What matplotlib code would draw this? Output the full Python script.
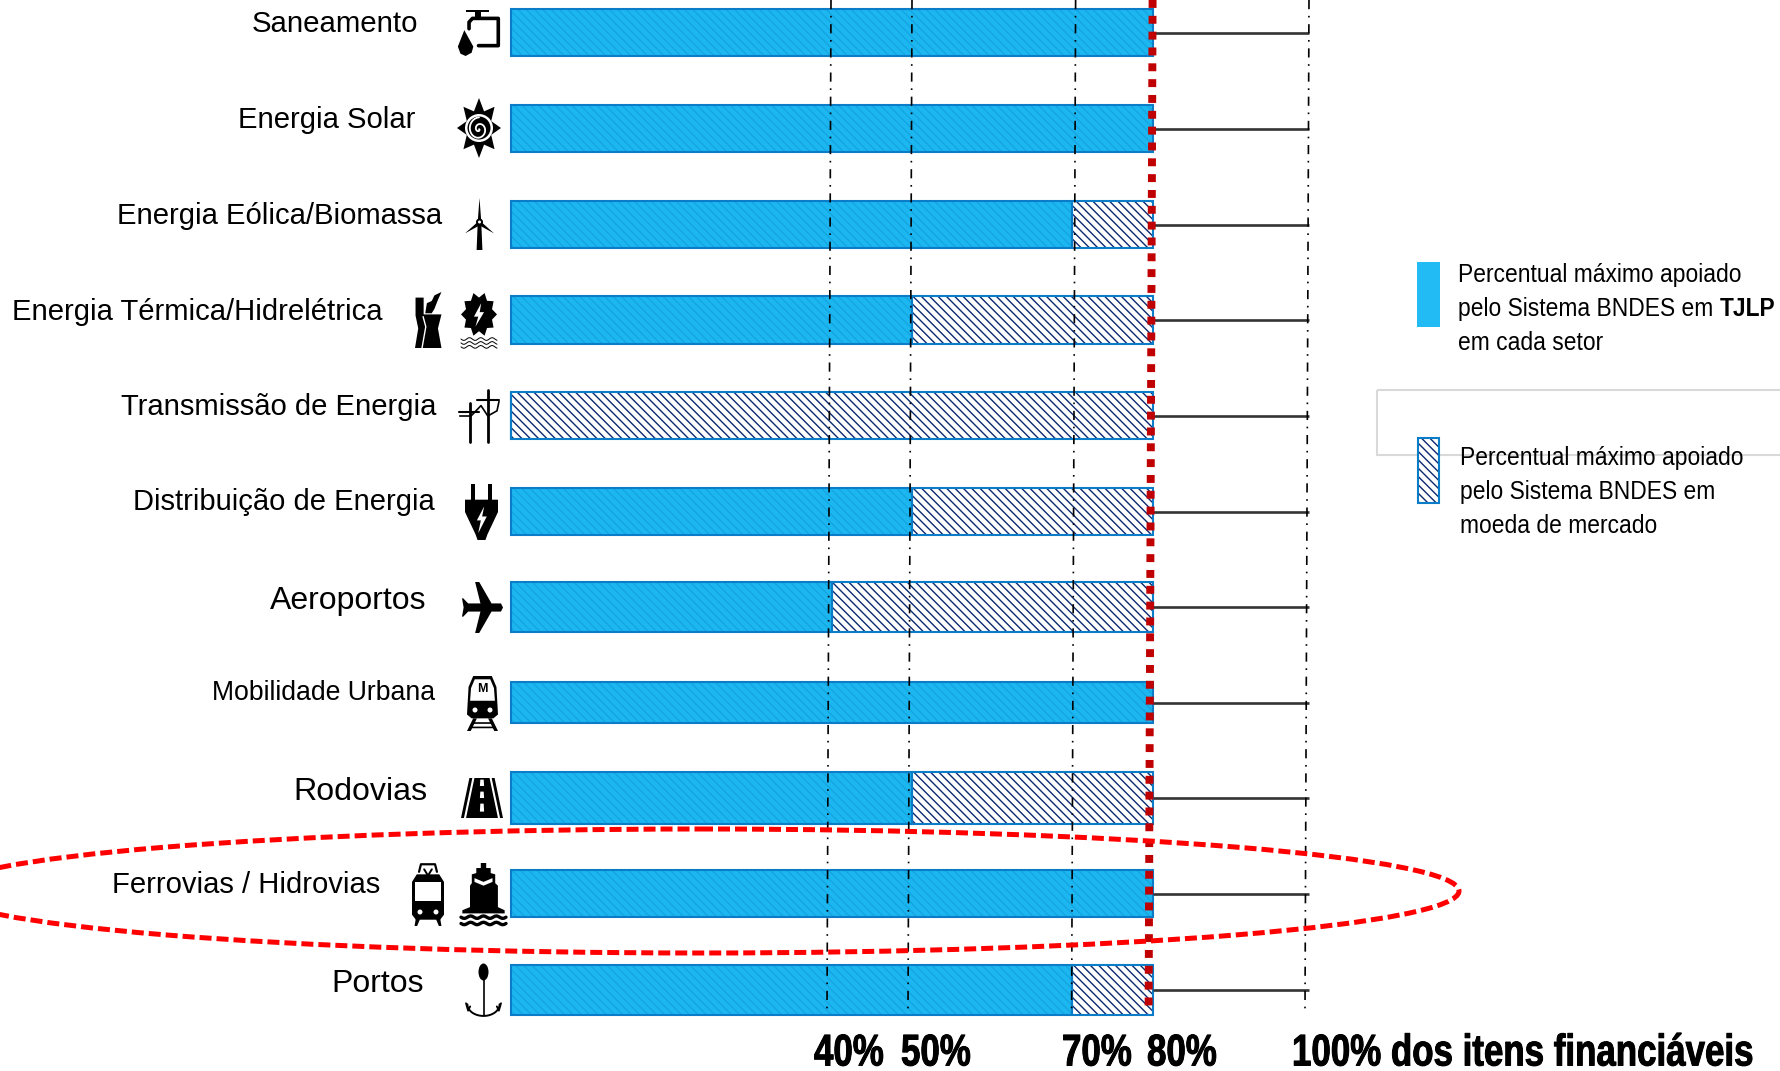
import numpy as np
import matplotlib
matplotlib.use("Agg")
import matplotlib.pyplot as plt
import matplotlib.patheffects as pe
from matplotlib import font_manager as fm
from matplotlib.patches import Ellipse, Polygon, Rectangle
from fontTools.ttLib import TTFont

# ---- data ----
sectors = ["Saneamento", "Energia Solar", "Energia Eólica/Biomassa", "Energia Térmica/Hidrelétrica",
           "Transmissão de Energia", "Distribuição de Energia", "Aeroportos", "Mobilidade Urbana",
           "Rodovias", "Ferrovias / Hidrovias", "Portos"]
tjlp_pct = [80, 80, 70, 50, 0, 50, 40, 80, 50, 80, 70]
market_pct = [0, 0, 10, 30, 80, 30, 40, 0, 30, 0, 10]
tick_values = [39.9, 50, 70.4, 80, 99.5]
tick_labels = ["40%", "50%", "70%", "80%", "100% dos itens financiáveis"]

# ---- layout (pixels of the picture) ----
W, H = 1780, 1071
row_top = [9, 105, 201, 296, 392, 488, 582, 682, 772, 870, 965]
row_bot = [56, 152, 248, 344, 439, 535, 632, 723, 824, 917, 1015]
label_right = [418, 415, 442, 382, 436, 435, 426, 435, 427, 380, 424]
label_y = [24, 120, 216, 312, 407, 502, 601, 693, 792, 885, 984]
label_pt = [21.2, 21.1, 21.1, 21.1, 21.1, 21.0, 23.0, 19.2, 23.1, 21.1, 23.0]


def condensed(weight, xscale, family):
    """Register a horizontally condensed copy of Liberation Sans (the sandbox has no narrow face)."""
    path = fm.findfont(fm.FontProperties(family='Liberation Sans', weight=weight))
    f = TTFont(path)
    glyf = f['glyf']
    for name in glyf.keys():
        g = glyf[name]
        g.removeHinting() if hasattr(g, 'removeHinting') else None
        if g.isComposite():
            for comp in g.components:
                comp.x = int(round(comp.x * xscale))
        elif g.numberOfContours > 0:
            g.coordinates.scale((xscale, 1))
            g.coordinates.toInt()
        g.recalcBounds(glyf)
    hmtx = f['hmtx']
    for name, (adv, lsb) in list(hmtx.metrics.items()):
        hmtx.metrics[name] = (int(round(adv * xscale)), int(round(lsb * xscale)))
    for tag in ('kern', 'GPOS', 'GSUB', 'hdmx', 'VDMX', 'LTSH', 'fpgm', 'prep', 'cvt ', 'gasp', 'DSIG'):
        if tag in f:
            del f[tag]
    for rec in f['name'].names:
        if rec.nameID in (1, 3, 4, 6, 16):
            rec.string = family.replace(' ', '') if rec.nameID == 6 else family
    fname = family.replace(' ', '_') + '.ttf'
    f.save(fname)
    fm.fontManager.addfont(fname)
    return fm.FontProperties(fname=fname)


FP_LEGEND = condensed('normal', 0.895, 'LibCond Regular')
FP_LEGEND_B = condensed('bold', 0.88, 'LibCond BoldA')
FP_TICK = condensed('bold', 0.785, 'LibCond BoldB')

fig = plt.figure(figsize=(W / 100, H / 100), dpi=100, facecolor='white')
ax = fig.add_axes([0, 0, 1, 1])
X0, PX_PER_PCT = 511, 8.02
ax.set_xlim(-X0 / PX_PER_PCT, (W - X0) / PX_PER_PCT)
ax.set_ylim(H, 0)
ax.axis('off')
plt.rcParams['hatch.linewidth'] = 1.0

ov = fig.add_axes([0, 0, 1, 1], facecolor='none')
ov.set_xlim(0, W)
ov.set_ylim(H, 0)
ov.axis('off')

BLUE, BLUE2, EDGE, NAVY = '#1CB6F0', '#15A6E2', '#0B7CC8', '#0A2A70'
HATCH = '\\\\\\\\'
centers = [(a + b) / 2 for a, b in zip(row_top, row_bot)]
heights = [b - a for a, b in zip(row_top, row_bot)]

ax.barh(centers, tjlp_pct, height=heights, color=BLUE, edgecolor=BLUE2, hatch=HATCH, lw=0, zorder=2)
ax.barh(centers, tjlp_pct, height=heights, color='none', edgecolor=EDGE, lw=1.5, zorder=2.5)
for c, h, t, m in zip(centers, heights, tjlp_pct, market_pct):
    if m:
        ax.barh(c, m, left=t, height=h, color='white', edgecolor=NAVY, hatch=HATCH, lw=0, zorder=2)
        ax.barh(c, m, left=t, height=h, color='none', edgecolor=EDGE, lw=1.5, zorder=2.5)

# whiskers to 100%
ax.hlines(centers, [t + m for t, m in zip(tjlp_pct, market_pct)], tick_values[-1], color='#333333', lw=1.9, zorder=3)

# reference lines, slightly slanted as in the picture
shear = 4 / 1013 / PX_PER_PCT
for i, v in enumerate(tick_values):
    if i == 3:
        ax.plot([v, v - 1013 * shear], [0, 1013], color='#C00000', lw=5.7, ls=(0, (1, 1)), zorder=6)
    else:
        ax.plot([v, v - 1013 * shear], [0, 1013], color='black', lw=1.2, ls=(0, (5.5, 4, 1, 4)), zorder=4)

# axis labels
tick_left = [814, 901, 1062, 1147, 1292]
for lx, s in zip(tick_left, tick_labels):
    ov.text(lx, 1054, s, fontproperties=FP_TICK, fontsize=32, ha='left', va='center',
            path_effects=[pe.withStroke(linewidth=0.7, foreground='black')])

for s, r, y, p in zip(sectors, label_right, label_y, label_pt):
    ov.text(r, y, s, family=['Liberation Sans'], fontsize=p, ha='right', va='center')

# highlight ellipse
ov.add_patch(Ellipse((701, 891), 1516, 124, fill=False, ec='#FF0000', lw=3.6, ls=(0, (2.4, 1)), zorder=7))

# legend
ov.add_patch(Rectangle((1377, 390), 500, 65, fill=False, ec='#D9D9D9', lw=1.5, zorder=1))
ov.add_patch(Rectangle((1417, 262), 23, 65, fc='#22BBF3', ec='none', zorder=3))
ov.add_patch(Rectangle((1418, 438), 21, 65, fc='white', ec=NAVY, hatch=HATCH, lw=0, zorder=3))
ov.add_patch(Rectangle((1418, 438), 21, 65, fill=False, ec=EDGE, lw=1.5, zorder=3.5))
lg_font = dict(fontproperties=FP_LEGEND, fontsize=18.4, ha='left', va='center', zorder=5)
ov.text(1458, 275, "Percentual máximo apoiado", **lg_font)
ov.text(1458, 309, "pelo Sistema BNDES em", **lg_font)
ov.text(1720, 309, "TJLP", fontproperties=FP_LEGEND_B, fontsize=18.6, ha='left', va='center', zorder=5)
ov.text(1458, 343, "em cada setor", **lg_font)
ov.text(1460, 458, "Percentual máximo apoiado", **lg_font)
ov.text(1460, 492, "pelo Sistema BNDES em", **lg_font)
ov.text(1460, 526, "moeda de mercado", **lg_font)


# ---- sector icons (decorative glyphs, unit box, y downwards) ----
def mapper(x0, y0, x1, y1):
    return lambda p: [(x0 + (x1 - x0) * a, y0 + (y1 - y0) * b) for a, b in p]


def poly(m, pts, c='black'):
    ov.add_patch(Polygon(m(pts), closed=True, fc=c, ec='none', zorder=8))


def line(m, pts, lw=2, c='black'):
    q = np.array(m(pts))
    ov.plot(q[:, 0], q[:, 1], color=c, lw=lw, solid_capstyle='round', zorder=8)


def disc(x, y, r, c='black'):
    ov.add_patch(Ellipse((x, y), 2 * r, 2 * r, fc=c, ec='none', zorder=8))


# tap
m = mapper(457, 9, 500, 56)
line(m, [(.28, .42), (.28, .28), (.36, .2), (.96, .2), (.96, .78), (.5, .78)], 2.6)
poly(m, [(.2, .02), (.75, .02), (.75, .07), (.2, .07)])
poly(m, [(.42, .05), (.55, .05), (.55, .2), (.42, .2)])
poly(m, [(.17, .45), (.02, .8), (.08, .95), (.2, 1), (.34, .93), (.38, .8)])

# sun
m = mapper(457, 98, 501, 158)
t = np.linspace(0, 2 * np.pi, 16, endpoint=False) - np.pi / 2
star = [(.5 + (.5 if i % 2 == 0 else .3) * np.cos(a), .5 + (.5 if i % 2 == 0 else .3) * np.sin(a)) for i, a in enumerate(t)]
poly(m, star)
disc(479, 128, 14, 'white')
disc(479, 128, 11.5)
th = np.linspace(0, 3.5 * np.pi, 60)
line(m, [(.5 + .022 * a * np.cos(a), .52 + .018 * a * np.sin(a)) for a in th], 1.3, 'white')

# wind turbine
m = mapper(465, 198, 494, 250)
poly(m, [(.5, 0), (.56, .45), (.6, 1), (.4, 1), (.44, .45)])
poly(m, [(.5, .36), (.56, .46), (1, .68), (.54, .54)])
poly(m, [(.5, .36), (.44, .46), (0, .68), (.46, .54)])
disc(479.5, 222, 3.5)
disc(479.5, 222, 1.5, 'white')

# thermal plant
m = mapper(415, 292, 442, 348)
poly(m, [(.02, .1), (.32, .1), (.32, .4), (.98, .4), (.85, .65), (.98, 1), (0, 1), (.12, .65), (.02, .42)])
line(m, [(.3, .44), (.4, .62), (.26, 1)], 1.0, 'white')
poly(m, [(.38, .38), (.44, .2), (.62, .16), (.72, .06), (.98, 0), (.85, .14), (.72, .3), (.62, .38)])

# hydro wheel
m = mapper(461, 292, 497, 348)
n = 20
t = np.linspace(0, 2 * np.pi, n, endpoint=False)
gear = [(.5 + (.5 if i % 2 == 0 else .38) * np.cos(a), .4 + (.4 if i % 2 == 0 else .3) * np.sin(a)) for i, a in enumerate(t)]
poly(m, gear)
poly(m, [(.56, .2), (.36, .44), (.48, .44), (.4, .62), (.64, .36), (.52, .36)], 'white')
for wy in (.84, .91, .98):
    x = np.linspace(0, 1, 25)
    line(m, list(zip(x, wy + .025 * np.sin(x * 20))), .7)

# pylons
m = mapper(459, 390, 499, 442)
line(m, [(.27, .25), (.27, 1)], 2)
line(m, [(.72, 0), (.72, 1)], 2)
line(m, [(0, .42), (.5, .42)], 1.5)
line(m, [(.45, .2), (1, .2)], 1.5)
line(m, [(.02, .5), (.3, .5), (.55, .3), (.72, .5), (.95, .4), (1, .22)], 1.2)

# plug
m = mapper(465, 484, 498, 540)
poly(m, [(.18, 0), (.3, 0), (.3, .3), (.18, .3)])
poly(m, [(.7, 0), (.82, 0), (.82, .3), (.7, .3)])
poly(m, [(0, .28), (1, .28), (1, .5), (.68, .9), (.62, 1), (.38, 1), (.32, .9), (0, .5)])
poly(m, [(.58, .4), (.36, .65), (.48, .65), (.4, .88), (.66, .58), (.52, .58)], 'white')

# airplane
m = mapper(462, 582, 503, 633)
poly(m, [(.32, 0), (.42, 0), (.72, .42), (.95, .42), (1, .5), (.95, .58), (.72, .58), (.42, 1), (.32, 1), (.45, .58), (.15, .58),
         (.03, .68), (0, .68), (.04, .5), (0, .32), (.03, .32), (.15, .42), (.45, .42)])

# metro
m = mapper(467, 676, 498, 731)
poly(m, [(.2, 0), (.8, 0), (.95, .2), (1, .7), (.85, .77), (.15, .77), (0, .7), (.05, .2)])
poly(m, [(.25, .06), (.75, .06), (.87, .22), (.9, .45), (.1, .45), (.13, .22)], 'white')
ov.text(482.5, 689, "M", family=['Liberation Sans'], weight='bold', fontsize=9, ha='center', va='center', zorder=9)
disc(475, 710, 2.5, 'white')
disc(490, 710, 2.5, 'white')
poly(m, [(.2, .77), (.32, .77), (.12, 1), (0, 1)])
poly(m, [(.68, .77), (.8, .77), (1, 1), (.88, 1)])
poly(m, [(.18, .84), (.82, .84), (.84, .87), (.16, .87)])
poly(m, [(.12, .92), (.88, .92), (.9, .95), (.1, .95)])

# road
m = mapper(461, 778, 503, 818)
poly(m, [(.2, 0), (.27, 0), (.07, 1), (0, 1)])
poly(m, [(.73, 0), (.8, 0), (1, 1), (.93, 1)])
poly(m, [(.32, 0), (.68, 0), (.88, 1), (.12, 1)])
for a, b in [(.04, .2), (.34, .5), (.64, .84)]:
    poly(m, [(.46, a), (.54, a), (.55, b), (.45, b)], 'white')

# tram
m = mapper(412, 863, 444, 926)
line(m, [(.22, .14), (.28, .02), (.72, .02), (.78, .14)], 1.6)
line(m, [(.38, .1), (.5, .2), (.62, .1)], 1.4)
poly(m, [(.15, .18), (.85, .18), (1, .3), (1, .82), (.88, .9), (.12, .9), (0, .82), (0, .3)])
poly(m, [(.1, .3), (.9, .3), (.9, .6), (.1, .6)], 'white')
disc(420, 912, 2.5, 'white')
disc(436, 912, 2.5, 'white')
poly(m, [(.12, .88), (.26, .88), (.16, 1), (.08, 1)])
poly(m, [(.74, .88), (.88, .88), (.92, 1), (.84, 1)])

# ship
m = mapper(461, 863, 506, 926)
poly(m, [(.44, 0), (.56, 0), (.56, .08), (.66, .08), (.66, .16), (.76, .18), (.76, .32), (.82, .36), (.82, .7), (.97, .75), (.97, .8),
         (.03, .8), (.03, .75), (.2, .7), (.2, .36), (.24, .32), (.24, .18), (.34, .16), (.34, .08), (.44, .08)])
poly(m, [(.3, .24), (.5, .3), (.7, .24), (.7, .3), (.5, .36), (.3, .3)], 'white')
for wy in (.86, .96):
    x = np.linspace(0, 1, 25)
    line(m, list(zip(x, wy + .02 * np.sin(x * 22))), 2.4)

# anchor
m = mapper(466, 964, 501, 1017)
ov.add_patch(Ellipse((483.5, 972), 10, 17, fc='black', ec='none', zorder=8))
line(m, [(.5, .3), (.5, .97)], 1.2)
a = np.linspace(np.pi, 2 * np.pi, 30)
line(m, list(zip(.5 + .46 * np.cos(a), .76 - .22 * np.sin(a))), 1.4)
line(m, [(0, .74), (.06, .88), (.12, .8)], 1.3)
line(m, [(1, .74), (.94, .88), (.88, .8)], 1.3)

fig.savefig('out.png', dpi=100, facecolor='white')
